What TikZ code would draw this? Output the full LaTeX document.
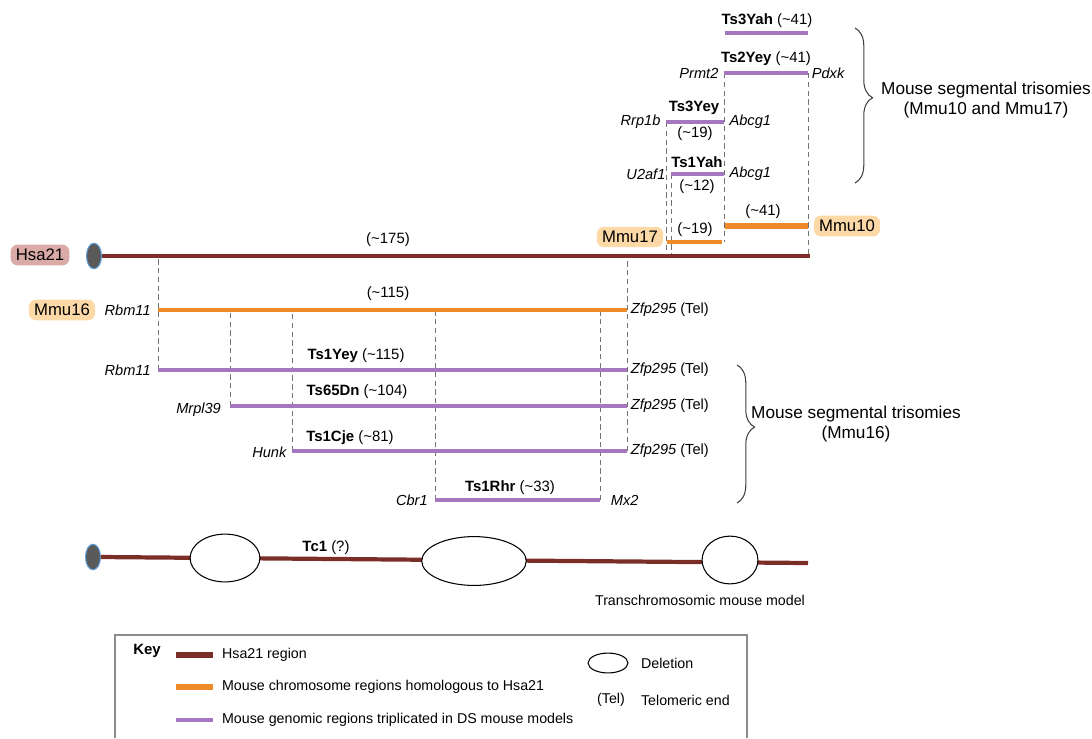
\documentclass[tikz,border=0pt]{standalone}
\usepackage{fontspec}
\setmainfont{Liberation Sans}
\usepackage{xcolor}
\usepackage{tikz}
\usetikzlibrary{positioning,shapes.geometric,decorations.pathreplacing}
\definecolor{HsaBrown}{HTML}{7B2E28}
\definecolor{MmuOrange}{HTML}{EE8A2A}
\definecolor{TriPurple}{HTML}{A577C0}
\definecolor{HsaPink}{HTML}{D9AAA6}
\definecolor{MmuPeach}{HTML}{FDD9A8}
\definecolor{CenBlue}{HTML}{5B9BD5}
\newcommand{\kbn}[1]{(\textasciitilde#1)}

\begin{document}
\begin{tikzpicture}[x=0.02cm,y=-0.02cm, every node/.style={inner sep=1pt,font=\fontsize{8.5}{10}\selectfont}, chr/.style={rounded corners=4pt,inner xsep=3pt,inner ysep=2.5pt,font=\fontsize{9.5}{11}\selectfont}, cen/.style={ellipse,draw=CenBlue,fill=black!65,line width=0.6pt,minimum width=8.5pt,minimum height=14.5pt,inner sep=0pt}, hsa/.style={line width=2.8pt,HsaBrown}, mmu/.style={line width=2.3pt,MmuOrange}, tri/.style={line width=1.8pt,TriPurple}, gd/.style={densely dashed,black!55,line width=0.4pt}, gene/.style={font=\fontsize{8.3}{9}\selectfont\itshape}, tel/.style={font=\fontsize{8.3}{9}\selectfont}, del/.style={ellipse,draw,fill=white,line width=0.6pt,inner sep=0pt}, br/.style={decorate,decoration={brace,amplitude=10pt,aspect=0.45},black!75,line width=0.6pt}, key/.style={font=\fontsize{8.1}{9}\selectfont}, grp/.style={align=center,font=\fontsize{9.8}{11.5}\selectfont}]
\useasboundingbox (0,0) rectangle (1092,738);
% segment ends
\coordinate (h0) at (100,256); \coordinate (h1) at (810,256);
\coordinate (m16a) at (158,310); \coordinate (m16b) at (627,310);
\coordinate (y1a) at (158,370); \coordinate (y1b) at (627,370);
\coordinate (dna) at (230,406); \coordinate (dnb) at (627,406);
\coordinate (cja) at (292,451); \coordinate (cjb) at (627,451);
\coordinate (rha) at (435,500); \coordinate (rhb) at (600,500);
\coordinate (m17a) at (667,242); \coordinate (m17b) at (722,242);
\coordinate (m10a) at (725,226); \coordinate (m10b) at (808,226);
\coordinate (yaha) at (671,174); \coordinate (yahb) at (724,174);
\coordinate (yeya) at (666,122); \coordinate (yeyb) at (724,122);
\coordinate (y2a) at (724,73); \coordinate (y2b) at (808,73);
\coordinate (y3a) at (725,33); \coordinate (y3b) at (808,33);
% guides
\draw[gd] (y1a) -- (y1a |- h0);\draw[gd] (dna) -- (dna |- m16a);\draw[gd] (cja) -- (cja |- m16a);\draw[gd] (rha) -- (rha |- m16a);\draw[gd] (rhb) -- (rhb |- m16a);\draw[gd] (cjb) -- (cjb |- h0);
\draw[gd] (yeya) -- (yeya |- h0);\draw[gd] (yaha) -- (yaha |- h0);\draw[gd] (y2a) -- (y2a |- m17a);\draw[gd] (y2b) -- (y2b |- h0);
% Hsa21
\draw[hsa] (h0) -- (h1);
\node[cen] (c1) at (94,256) {};
\node[chr,fill=HsaPink] (hsa) at (40,255) {Hsa21};
\node (n175) at (388,240) {\kbn{175}};
% Mmu17 / Mmu10
\draw[mmu,line width=2.2pt] (m17a) -- (m17b);
\draw[mmu,line width=3.8pt] (m10a) -- (m10b);
\node[chr,fill=MmuPeach] (m17) at (630,237) {Mmu17};
\node[chr,fill=MmuPeach] (m10) at (847,226) {Mmu10};
\node (n19a) at (695,230) {\kbn{19}};
\node (n41a) at (763,212) {\kbn{41}};
\draw[tri] (yaha) -- (yahb);\draw[tri] (yeya) -- (yeyb);\draw[tri] (y2a) -- (y2b);\draw[tri] (y3a) -- (y3b);
\node[font=\fontsize{8.5}{10}\selectfont\bfseries] (yah1) at (697,162) {Ts1Yah};
\node (n12) at (697,187) {\kbn{12}};
\node[gene,left=2pt of yaha] (u2af1) {U2af1};
\node[gene,right=2pt of yahb] (abcg1a) {Abcg1};
\node[font=\fontsize{8.5}{10}\selectfont\bfseries] (yey3) at (694,108) {Ts3Yey};
\node (n19b) at (695,134) {\kbn{19}};
\node[gene,left=2pt of yeya] (rrp1b) {Rrp1b};
\node[gene,right=2pt of yeyb] (abcg1b) {Abcg1};
\node (yey2) at (766,59) {\textbf{Ts2Yey} \kbn{41}};
\node[gene,left=2pt of y2a] (prmt2) {Prmt2};
\node[gene,right=1pt of y2b] (pdxk) {Pdxk};
\node (yah3) at (767,21) {\textbf{Ts3Yah} \kbn{41}};
\draw[br] (855,28) -- (855,183);
\node[grp] (grp1) at (986,100) {Mouse segmental trisomies\\(Mmu10 and Mmu17)};
% Mmu16 and its trisomies
\draw[mmu] (m16a) -- (m16b);
\node[chr,fill=MmuPeach] (m16) at (62,310) {Mmu16};
\node[gene,left=3pt of m16a] (rbm1) {Rbm11};
\node (n115) at (388,294) {\kbn{115}};
\node[tel,right=1pt of m16b] (zfp1) {\textit{Zfp295} (Tel)};
\draw[tri] (y1a) -- (y1b);\draw[tri] (dna) -- (dnb);\draw[tri] (cja) -- (cjb);\draw[tri] (rha) -- (rhb);
\node (yey1) at (356,356) {\textbf{Ts1Yey} \kbn{115}};
\node[gene,left=3pt of y1a] (rbm2) {Rbm11};
\node[tel,right=1pt of y1b] (zfp2) {\textit{Zfp295} (Tel)};
\node (dn65) at (357,392) {\textbf{Ts65Dn} \kbn{104}};
\node[gene,left=4pt of dna,yshift=-2pt] (mrpl39) {Mrpl39};
\node[tel,right=1pt of dnb] (zfp3) {\textit{Zfp295} (Tel)};
\node (cje1) at (350,438) {\textbf{Ts1Cje} \kbn{81}};
\node[gene,left=2pt of cja,yshift=-1pt] (hunk) {Hunk};
\node[tel,right=1pt of cjb] (zfp4) {\textit{Zfp295} (Tel)};
\node (rhr1) at (510,488) {\textbf{Ts1Rhr} \kbn{33}};
\node[gene,left=3pt of rha] (cbr1) {Cbr1};
\node[gene,right=5pt of rhb] (mx2) {Mx2};
\draw[br] (737,365) -- (737,503);
\node[grp] (grp2) at (856,424) {Mouse segmental trisomies\\(Mmu16)};
% Tc1
\coordinate (t0) at (100,557); \coordinate (t1) at (808,563);
\draw[hsa,line width=2.4pt] (t0) -- (t1);
\node[cen] (c2) at (93,557) {};
\node[del,minimum width=39.7pt,minimum height=27.2pt] (d1) at (225,558) {};
\node[del,minimum width=59.5pt,minimum height=27.8pt] (d2) at (474,561) {};
\node[del,minimum width=31.8pt,minimum height=27.2pt] (d3) at (730,560) {};
\node (tc1) at (326,548) {\textbf{Tc1} (?)};
\node[font=\fontsize{8.1}{9}\selectfont] (tcm) at (700,600) {Transchromosomic mouse model};
% key
\draw[black!45,line width=0.8pt] (115,738) |- (747,635) -- (747,738);
\node[font=\fontsize{8.5}{10}\selectfont\bfseries] (keyt) at (147,651) {Key};
\coordinate (k1a) at (176,655); \coordinate (k1b) at (213,655);
\coordinate (k2a) at (176,687); \coordinate (k2b) at (213,687);
\coordinate (k3a) at (176,720); \coordinate (k3b) at (213,720);
\draw[HsaBrown,line width=3.8pt] (k1a) -- (k1b);
\draw[MmuOrange,line width=3.2pt] (k2a) -- (k2b);
\draw[TriPurple,line width=2.8pt] (k3a) -- (k3b);
\node[key,right=4pt of k1b] (k1t) {Hsa21 region};
\node[key,right=4pt of k2b] (k2t) {Mouse chromosome regions homologous to Hsa21};
\node[key,right=4pt of k3b] (k3t) {Mouse genomic regions triplicated in DS mouse models};
\node[del,minimum width=22.7pt,minimum height=11.3pt] (kd) at (608,663) {};
\node[key,anchor=west] (kdt) at (639,663) {Deletion};
\node[key] (ktel) at (611,700) {(Tel)};
\node[key,anchor=west] (ktelt) at (639,700) {Telomeric end};
\end{tikzpicture}
\end{document}
